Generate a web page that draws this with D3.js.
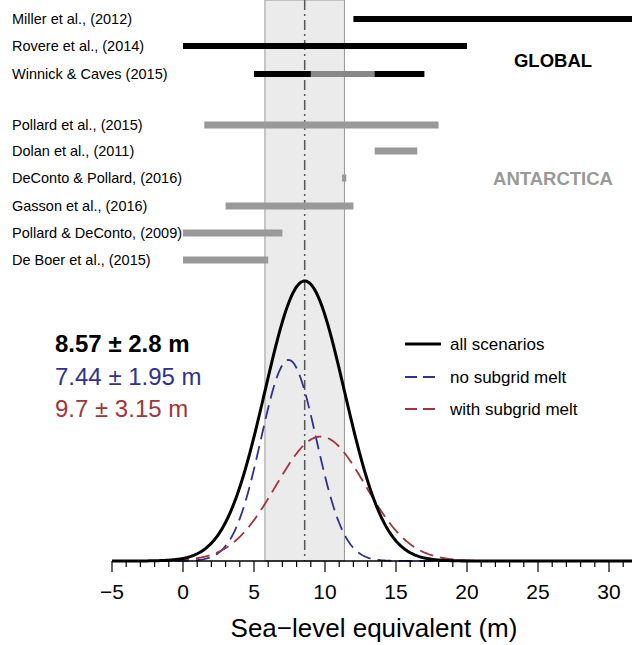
<!DOCTYPE html>
<html><head><meta charset="utf-8">
<script src="https://cdn.jsdelivr.net/npm/d3@7"></script>
<style>body{margin:0;background:#fff}text{font-family:"Liberation Sans",Arial,sans-serif}</style>
</head><body><svg width="632" height="645"></svg>
<script>
const studies = ["Miller et al., (2012)","Rovere et al., (2014)","Winnick & Caves (2015)","Pollard et al., (2015)","Dolan et al., (2011)","DeConto & Pollard, (2016)","Gasson et al., (2016)","Pollard & DeConto, (2009)","De Boer et al., (2015)"];
const lo = [12, 0, 5, 1.5, 13.5, 11.2, 3, 0, 0];
const hi = [33, 20, 17, 18, 16.5, 11.5, 12, 7, 6];
const group = ["g","g","g","a","a","a","a","a","a"];
const rowY = [19, 46, 74, 125, 151, 178, 206, 233, 260];
const winnickGray = [9, 13.5];
const scen = ["all scenarios","no subgrid melt","with subgrid melt"];
const means = [8.57, 7.44, 9.7];
const sds = [2.8, 1.95, 3.15];
const weights = [1, 0.5, 0.5];
const colors = ["#000","#2e3192","#a3343a"];

const svg = d3.select("svg");
const x = d3.scaleLinear().domain([-5, 30]).range([112, 609]);
const base = 561;
const peak = 1/(sds[0]*Math.sqrt(2*Math.PI));
const y = d3.scaleLinear().domain([0, peak]).range([base, 281]);

// band
svg.append("rect").attr("x", x(means[0]-sds[0])).attr("y", 0)
  .attr("width", x(means[0]+sds[0]) - x(means[0]-sds[0])).attr("height", base)
  .attr("fill", "#ebebeb").attr("stroke", "#999").attr("stroke-width", 1);
svg.append("line").attr("x1", x(means[0])).attr("x2", x(means[0])).attr("y1", 0).attr("y2", base)
  .attr("stroke", "#555").attr("stroke-width", 1.5).attr("stroke-dasharray", "10,4,2,4");

// bars
studies.forEach((s, i) => {
  svg.append("line").attr("x1", x(lo[i])).attr("x2", x(hi[i])).attr("y1", rowY[i]).attr("y2", rowY[i])
    .attr("stroke", group[i] === "g" ? "#000" : "#999").attr("stroke-width", group[i] === "g" ? 6 : 7);
  svg.append("text").attr("x", 12).attr("y", rowY[i] + 5).attr("font-size", 14.5).text(s);
});
svg.append("line").attr("x1", x(winnickGray[0])).attr("x2", x(winnickGray[1])).attr("y1", rowY[2]).attr("y2", rowY[2])
  .attr("stroke", "#888").attr("stroke-width", 6);
svg.append("text").attr("x", 553).attr("y", 67).attr("text-anchor", "middle").attr("font-size", 18.5).attr("font-weight", "bold").text("GLOBAL");
svg.append("text").attr("x", 553).attr("y", 185).attr("text-anchor", "middle").attr("font-size", 18.5).attr("font-weight", "bold").attr("fill", "#999").text("ANTARCTICA");

// curves
const xs = d3.range(-5, 32.01, 0.1);
const line = d3.line().x(d => x(d[0])).y(d => y(d[1]));
[1, 2, 0].forEach(k => {
  const pts = xs.map(v => [v, weights[k]*Math.exp(-0.5*((v-means[k])/sds[k])**2)/(sds[k]*Math.sqrt(2*Math.PI))]);
  svg.append("path").attr("d", line(pts)).attr("fill", "none").attr("stroke", colors[k])
    .attr("stroke-width", k === 0 ? 3 : 1.8).attr("stroke-dasharray", k === 0 ? null : "14,7");
});

// stats text + legend
const statY = [344, 377, 409];
scen.forEach((s, k) => {
  svg.append("text").attr("x", 55).attr("y", statY[k] + 8).attr("font-size", 24)
    .attr("font-weight", k === 0 ? "bold" : "normal").attr("fill", colors[k])
    .text(`${means[k]} ± ${sds[k]} m`);
  svg.append("line").attr("x1", 405).attr("x2", 441).attr("y1", statY[k]).attr("y2", statY[k])
    .attr("stroke", colors[k]).attr("stroke-width", k === 0 ? 3 : 1.8).attr("stroke-dasharray", k === 0 ? null : "12,6");
  svg.append("text").attr("x", 450).attr("y", statY[k] + 6).attr("font-size", 17).text(s);
});

// axis
const ax = svg.append("g").attr("transform", `translate(0,${base})`);
ax.append("line").attr("x1", 112).attr("x2", 632).attr("stroke", "#000").attr("stroke-width", 1.5);
ax.selectAll(".mn").data(d3.range(-5, 32)).join("line").attr("x1", d => x(d)).attr("x2", d => x(d))
  .attr("y2", d => d % 5 === 0 ? 11 : 6).attr("stroke", "#000").attr("stroke-width", 1.2);
ax.selectAll(".lb").data(d3.range(-5, 31, 5)).join("text").attr("x", d => x(d)).attr("y", 38)
  .attr("text-anchor", "middle").attr("font-size", 21).text(d => d < 0 ? "\u2212" + (-d) : d);
svg.append("text").attr("x", 374).attr("y", 637).attr("text-anchor", "middle").attr("font-size", 26)
  .text("Sea\u2212level equivalent (m)");
</script></body></html>
